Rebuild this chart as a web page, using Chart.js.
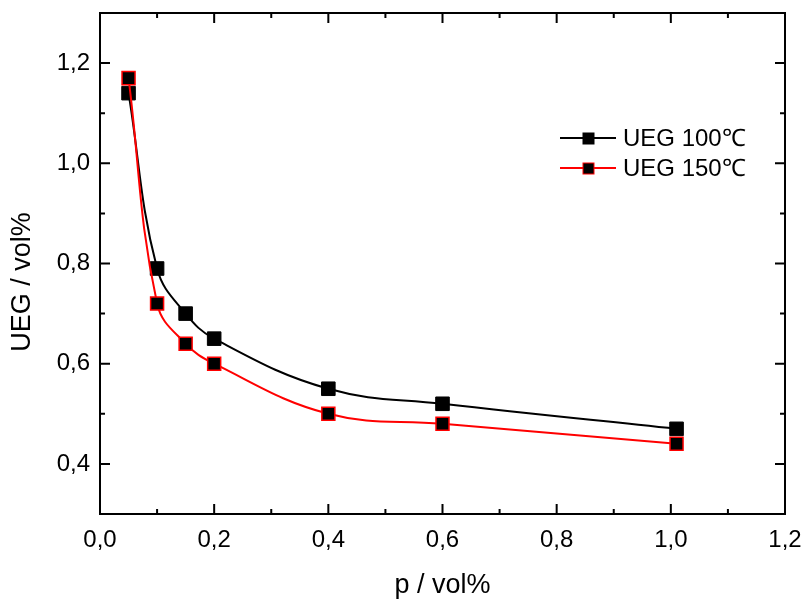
<!DOCTYPE html>
<html>
<head>
<meta charset="utf-8">
<script src="https://cdn.jsdelivr.net/npm/chart.js@4"></script>
<style>
  html, body { margin: 0; padding: 0; background: #fff; }
  #wrap { width: 806px; height: 599px; }
</style>
</head>
<body>
<div id="wrap"><canvas id="ueg"></canvas></div>
<script>
// p in vol%, UEG in vol%
const pValues = [0.05, 0.1, 0.15, 0.2, 0.4, 0.6, 1.01];
const ueg100 = [1.14, 0.79, 0.70, 0.65, 0.55, 0.52, 0.47];
const ueg150 = [1.17, 0.72, 0.64, 0.60, 0.50, 0.48, 0.44];

const xTicks = [0, 0.2, 0.4, 0.6, 0.8, 1.0, 1.2];
const yTicks = [0.4, 0.6, 0.8, 1.0, 1.2];
const xMinor = [0.1, 0.3, 0.5, 0.7, 0.9, 1.1];
const yMinor = [0.3, 0.5, 0.7, 0.9, 1.1, 1.3];

const seriesLabels = ['UEG 100\u2103', 'UEG 150\u2103'];
const yTitle = 'UEG / vol%';

const FONT = '"Liberation Sans", Arial, Helvetica, sans-serif';
const comma = v => v.toFixed(1).replace('.', ',');

// frame with inward ticks on all four sides, plus the rotated y title
const frame = {
  id: 'frame',
  afterDraw(chart) {
    const { ctx, chartArea: a, scales: { x, y } } = chart;
    ctx.save();
    ctx.strokeStyle = '#000';
    ctx.lineWidth = 2;
    ctx.strokeRect(a.left, a.top, a.right - a.left, a.bottom - a.top);
    const tickX = (vals, len) => {
      vals.forEach(v => {
        const px = x.getPixelForValue(v);
        ctx.beginPath();
        ctx.moveTo(px, a.bottom); ctx.lineTo(px, a.bottom - len);
        ctx.moveTo(px, a.top); ctx.lineTo(px, a.top + len);
        ctx.stroke();
      });
    };
    const tickY = (vals, len) => {
      vals.forEach(v => {
        const py = y.getPixelForValue(v);
        ctx.beginPath();
        ctx.moveTo(a.left, py); ctx.lineTo(a.left + len, py);
        ctx.moveTo(a.right, py); ctx.lineTo(a.right - len, py);
        ctx.stroke();
      });
    };
    tickX(xTicks, 10); tickX(xMinor, 5);
    tickY(yTicks, 10); tickY(yMinor, 5);

    ctx.translate(23, 282);
    ctx.rotate(-Math.PI / 2);
    ctx.fillStyle = '#000';
    ctx.font = '27px ' + FONT;
    ctx.textAlign = 'center';
    ctx.textBaseline = 'middle';
    ctx.fillText(yTitle, 0, 0);
    ctx.restore();
  }
};

// legend: line - square - line, then label
const legendBox = {
  id: 'legendBox',
  afterDraw(chart) {
    const { ctx } = chart;
    const rows = [
      { text: seriesLabels[0], line: '#000', edge: '#000', y: 138 },
      { text: seriesLabels[1], line: '#f00', edge: '#f00', y: 168 }
    ];
    ctx.save();
    rows.forEach(r => {
      ctx.strokeStyle = r.line;
      ctx.lineWidth = 2;
      ctx.beginPath();
      ctx.moveTo(560, r.y); ctx.lineTo(616, r.y);
      ctx.stroke();
      ctx.fillStyle = '#000';
      ctx.fillRect(583, r.y - 5, 11, 11);
      ctx.strokeStyle = r.edge;
      ctx.lineWidth = 1;
      ctx.strokeRect(583, r.y - 5, 11, 11);
      ctx.fillStyle = '#000';
      ctx.font = '24px ' + FONT;
      ctx.textBaseline = 'middle';
      ctx.fillText(r.text, 623, r.y + 1);
    });
    ctx.restore();
  }
};

function toPoints(ys) {
  return pValues.map((p, i) => ({ x: p, y: ys[i] }));
}

new Chart(document.getElementById('ueg'), {
  type: 'line',
  data: {
    datasets: [
      {
        label: seriesLabels[0],
        data: toPoints(ueg100),
        borderColor: '#000',
        borderWidth: 2,
        tension: 0.4,
        pointStyle: 'rect',
        pointRadius: 9.6,
        pointBackgroundColor: '#000',
        pointBorderColor: '#000',
        pointBorderWidth: 1,
        order: 1
      },
      {
        label: seriesLabels[1],
        data: toPoints(ueg150),
        borderColor: '#f00',
        borderWidth: 2,
        tension: 0.4,
        pointStyle: 'rect',
        pointRadius: 9.2,
        pointBackgroundColor: '#000',
        pointBorderColor: '#f00',
        pointBorderWidth: 1.5,
        order: 0
      }
    ]
  },
  options: {
    responsive: true,
    maintainAspectRatio: false,
    animation: false,
    layout: { padding: { top: 13, right: 21, left: 0, bottom: 0 } },
    plugins: { legend: { display: false }, tooltip: { enabled: false } },
    scales: {
      x: {
        type: 'linear',
        min: 0,
        max: 1.2,
        afterBuildTicks: s => { s.ticks = xTicks.map(v => ({ value: v })); },
        afterFit: s => { s.height = 85; s.paddingLeft = 0; s.paddingRight = 0; },
        grid: { display: false, drawTicks: false },
        border: { display: false },
        ticks: {
          padding: 12,
          color: '#000',
          font: { family: FONT, size: 24 },
          maxRotation: 0,
          callback: v => comma(v)
        },
        title: {
          display: true,
          text: 'p / vol%',
          color: '#000',
          font: { family: FONT, size: 27 },
          padding: { top: 0, bottom: -3 }
        }
      },
      y: {
        type: 'linear',
        min: 0.3,
        max: 1.3,
        afterBuildTicks: s => { s.ticks = yTicks.map(v => ({ value: v })); },
        afterFit: s => { s.width = 100; s.paddingTop = 0; s.paddingBottom = 0; },
        grid: { display: false, drawTicks: false },
        border: { display: false },
        ticks: {
          padding: 10,
          color: '#000',
          font: { family: FONT, size: 24 },
          callback: v => comma(v)
        },
        title: { display: false }
      }
    }
  },
  plugins: [frame, legendBox]
});
</script>
</body>
</html>
